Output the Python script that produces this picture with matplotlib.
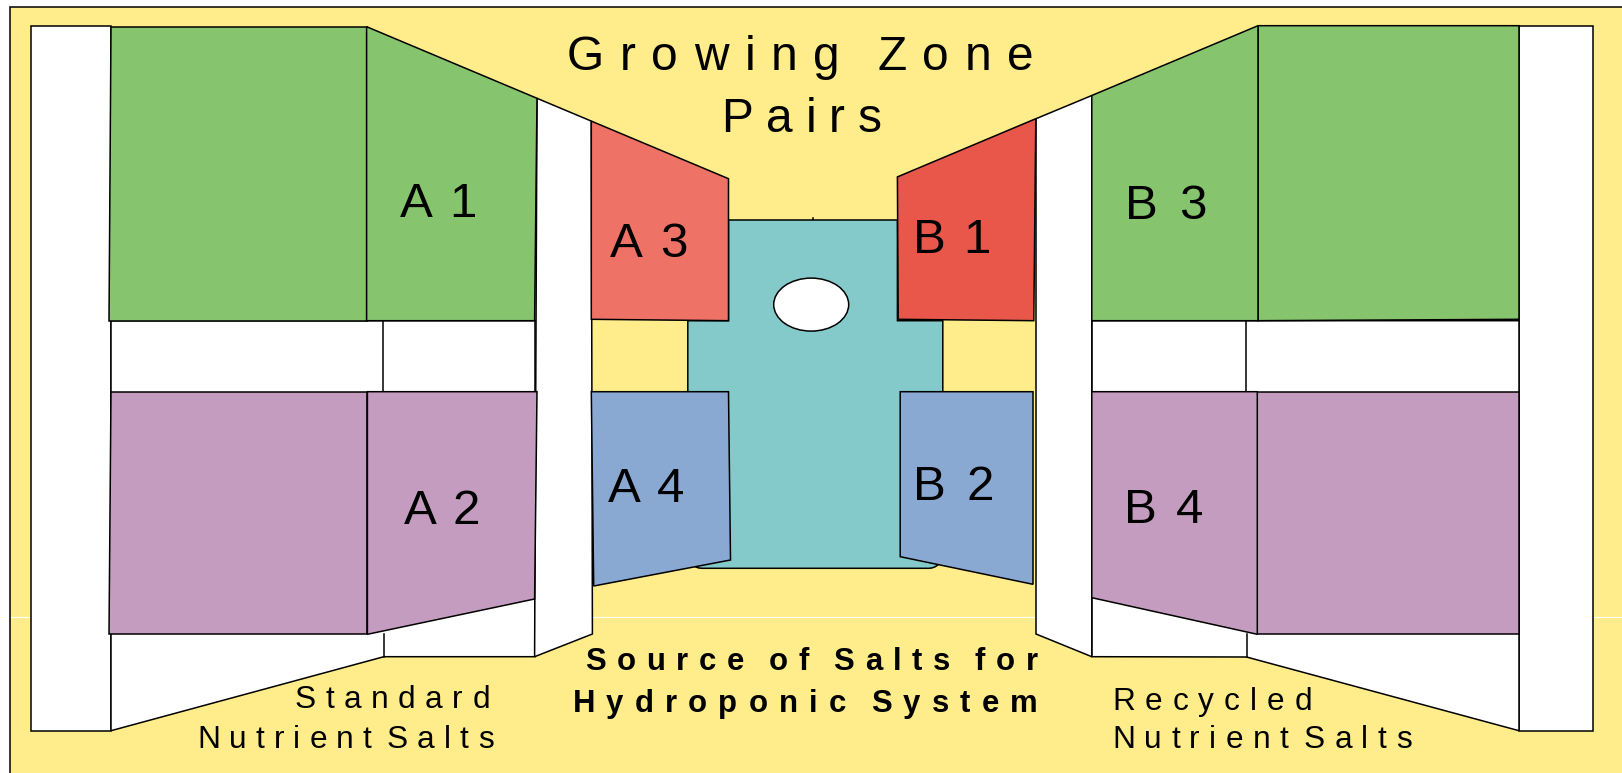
import numpy as np
import matplotlib
matplotlib.use("Agg")
import matplotlib.pyplot as plt
from matplotlib.patches import Polygon, Rectangle, Ellipse
from matplotlib.font_manager import FontProperties, findfont
from matplotlib.ft2font import FT2Font

W, H, DPI = 1622, 773, 100
FONT = "Liberation Sans"

# DATA (labels of the diagram)
zone_labels = ["A 1", "A 2", "A 3", "A 4", "B 1", "B 2", "B 3", "B 4"]
title_lines = ["Growing Zone", "Pairs"]
source_lines = ["Source of Salts for", "Hydroponic System"]
left_lines = ["Standard", "Nutrient Salts"]
right_lines = ["Recycled", "Nutrient Salts"]

# colours
YELLOW = "#FFEC8A"
GREEN = "#86C46E"
PURPLE = "#C49CBF"
SALMON = "#EF7266"
RED = "#E9574B"
BLUE = "#8AA9D2"
TEAL = "#84CACA"
LW = 1.1

# layout, pixel coords of the 1622x773 picture (y down)
# polygon, colour, label span (x0, x1, baseline)
zone_geom = {
    "A 1": ([(366.6, 26.7), (537, 98.3), (534.6, 320.7), (366.6, 320.7)], GREEN, (400, 476.5, 216.7)),
    "A 2": ([(367.4, 391.7), (537, 391.7), (534.6, 599), (367.4, 634.3)], PURPLE, (403.8, 480.3, 524)),
    "A 3": ([(591.3, 121.1), (728.5, 178.7), (728.5, 320.7), (591.3, 319.3)], SALMON, (610, 687.8, 256.7)),
    "A 4": ([(591.3, 391.7), (728.5, 391.7), (730.5, 560), (593.7, 586)], BLUE, (608, 683.9, 501.7)),
    "B 1": ([(897.4, 176.9), (1035.8, 118.7), (1033.8, 320.7), (898.2, 319.3)], RED, (913, 990.3, 253.3)),
    "B 2": ([(900.2, 391.7), (1033, 391.7), (1033, 584.3), (900.2, 556.7)], BLUE, (913, 993.5, 500)),
    "B 3": ([(1091.8, 95.5), (1258, 25.7), (1258, 320.7), (1091.8, 320.7)], GREEN, (1125.4, 1206.2, 219)),
    "B 4": ([(1091.8, 391.7), (1257.3, 391.7), (1257.3, 634.3), (1091.8, 597.7)], PURPLE, (1123.5, 1203.5, 522.7)),
}
blocks = [
    ([(111, 26.7), (366.6, 26.7), (366.6, 320.7), (109, 320.7)], GREEN),
    ([(111, 391.7), (367.4, 391.7), (367.4, 634.3), (109, 634.3)], PURPLE),
    ([(1258, 25.7), (1519, 25.7), (1519, 319.3), (1258, 320.7)], GREEN),
    ([(1257.3, 391.7), (1519, 391.7), (1519, 634.3), (1257.3, 634.3)], PURPLE),
]
white_parts = [
    [(31.4, 26), (111, 26), (111, 730.7), (31.4, 730.7)],
    [(1519, 26), (1593, 26), (1593, 730.7), (1519, 730.7)],
    [(111, 320.7), (535, 320.7), (535, 656.7), (383.9, 656.7), (111, 730.7)],
    [(1091.8, 320.7), (1519, 320.7), (1519, 730.7), (1246.5, 657), (1091.8, 656.7)],
    [(537, 98.3), (591.3, 121.1), (592.4, 634), (534.6, 656.7)],
    [(1036, 118.7), (1091.8, 95.5), (1091.8, 656.7), (1036, 634)],
]
dividers = [
    [(382.7, 320.7), (382.7, 391.7)], [(383.9, 634.3), (383.9, 656.7)],
    [(1245.7, 320.7), (1245.7, 391.7)], [(1246.5, 634.3), (1246.5, 657)],
    [(812.5, 217.5), (812.5, 220)],
]


def teal_outline(r=14):
    pts = [(728.5, 220), (897.4, 220), (897.4, 320.7), (942.8, 320.7), (942.8, 568.3 - r)]
    a = np.linspace(0, np.pi / 2, 8)
    pts += [(942.8 - r + r * np.cos(t), 568.3 - r + r * np.sin(t)) for t in a]
    pts += [(687.8 + r - r * np.sin(t), 568.3 - r + r * np.cos(t)) for t in a]
    pts += [(687.8, 320.7), (728.5, 320.7)]
    return pts


def advances(s, size, weight):
    font = FT2Font(findfont(FontProperties(family=FONT, weight=weight)))
    font.set_size(size, DPI)
    return [font.load_char(ord(c)).linearHoriAdvance / 65536 for c in s]


def spread(ax, s, x0, x1, y, size, weight="normal", word=1.0):
    # letter-spaced text stretched to run from x0 to x1
    adv = advances(s, size, weight)
    n = sum(1 for c in s if c != " ")
    fixed = sum(a for c, a in zip(s, adv) if c != " ") + word * sum(a for c, a in zip(s, adv) if c == " ")
    track = (x1 - x0 - fixed) / (n - 1)
    x = x0
    for c, a in zip(s, adv):
        if c == " ":
            x += a * word
            continue
        ax.text(x, y, c, fontsize=size, family=FONT, weight=weight,
                ha="left", va="baseline", color="black", zorder=10)
        x += a + track


fig = plt.figure(figsize=(W / DPI, H / DPI), dpi=DPI)
ax = fig.add_axes([0, 0, 1, 1])
ax.set_xlim(0, W)
ax.set_ylim(H, 0)
ax.axis("off")

ax.add_patch(Rectangle((9.6, 7.3), W + 50, H + 50, fc=YELLOW, ec="black", lw=LW, zorder=0))
ax.plot([10.5, W], [617, 617], color="white", lw=0.8, zorder=0.5)

for pts in white_parts:
    ax.add_patch(Polygon(pts, closed=True, fc="white", ec="black", lw=LW, zorder=1))
for seg in dividers:
    ax.plot(*zip(*seg), color="black", lw=LW, zorder=1.5)

ax.add_patch(Polygon(teal_outline(), closed=True, fc=TEAL, ec="black", lw=LW, zorder=2))
ax.add_patch(Ellipse((811.2, 304.6), 75, 53, fc="white", ec="black", lw=LW, zorder=2.5))

for pts, col in blocks:
    ax.add_patch(Polygon(pts, closed=True, fc=col, ec="black", lw=LW, zorder=3))
for name in zone_labels:
    pts, col, (x0, x1, ty) = zone_geom[name]
    ax.add_patch(Polygon(pts, closed=True, fc=col, ec="black", lw=LW, zorder=3))
    spread(ax, name, x0, x1, ty, 35.5)

spread(ax, title_lines[0], 566.4, 1033.8, 70, 34.5, word=1.6)
spread(ax, title_lines[1], 721.4, 881.6, 131.7, 34.5)
spread(ax, source_lines[0], 585, 1037.8, 670, 22.4, weight="bold", word=1.6)
spread(ax, source_lines[1], 572.4, 1037.8, 712.3, 22.4, weight="bold", word=1.6)
spread(ax, left_lines[0], 294.7, 489.8, 708.3, 22.8)
spread(ax, left_lines[1], 197, 493.7, 747.7, 22.8, word=0.7)
spread(ax, right_lines[0], 1112, 1311.8, 710, 22.8)
spread(ax, right_lines[1], 1112, 1411.6, 748.3, 22.8, word=0.7)

fig.savefig("out.png", dpi=DPI)
